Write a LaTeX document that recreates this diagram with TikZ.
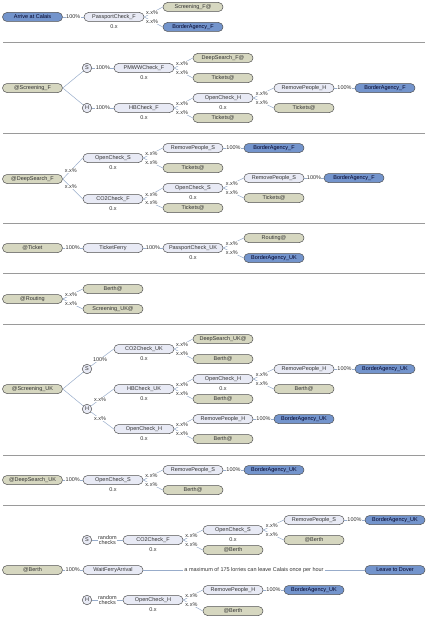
\documentclass[tikz,border=0pt]{standalone}
\usepackage{fontspec}
\setmainfont{Liberation Sans}
\definecolor{beigefill}{HTML}{D6D7C0}
\definecolor{lavfill}{HTML}{E8EAF5}
\definecolor{bluefill}{HTML}{7394CC}
\definecolor{nodeborder}{HTML}{505050}
\definecolor{connline}{HTML}{98ACCA}
\definecolor{sepline}{HTML}{9A9A9A}
\definecolor{txt}{HTML}{333333}
\tikzset{
  pill/.style={rectangle, rounded corners=4.5pt, minimum width=60pt, minimum height=9pt,
    inner sep=0pt, draw=nodeborder, line width=0.5pt, text=txt,
    font=\fontsize{5.5}{6}\selectfont},
  beige/.style={pill, fill=beigefill},
  lav/.style={pill, fill=lavfill},
  blu/.style={pill, fill=bluefill, text=black!85!blue},
  circ/.style={circle, draw=nodeborder, fill=lavfill, line width=0.5pt, minimum size=9.5pt,
    inner sep=0pt, text=txt, font=\fontsize{5.5}{6}\selectfont},
  zx/.style={label={[font=\fontsize{5.5}{6}\selectfont, text=txt, yshift=1pt]below:0.x}},
  conn/.style={draw=connline, line width=0.5pt},
  lbl/.style={fill=white, inner sep=0.4pt, text=txt, font=\fontsize{5.5}{6}\selectfont},
  sep/.style={draw=sepline, line width=1pt},
}
\newcommand\hedge[3]{\draw[conn] (#1.east) -- node[lbl]{#3} (#2.west);}
\newcommand\bedge[2]{\draw[conn] (#1.east) -- node[lbl,pos=.42]{x.x\%} (#2.west);}
\begin{document}
\begin{tikzpicture}[x=1pt,y=-1pt]
\useasboundingbox (0,0) rectangle (428,626);
% separators
\foreach \yy/\nm in {43/a,133/b,223/c,273/d,324/e,455/f,505/g}{
  \coordinate (sl\nm) at (3,\yy); \coordinate (sr\nm) at (425,\yy);
  \draw[sep] (sl\nm) -- (sr\nm);}
% ---------- section 1
\node[blu] (a1) at (32.5,17) {Arrive at Calais};
\node[lav,zx] (a2) at (114,17) {PassportCheck\_F};
\node[beige] (a3) at (193,7) {Screening\_F@};
\node[blu] (a4) at (193,27) {BorderAgency\_F};
\hedge{a1}{a2}{100\%}
\bedge{a2}{a3}\bedge{a2}{a4}
% ---------- section 2
\node[beige] (b1) at (32.5,88) {@Screening\_F};
\node[circ] (bS) at (87,68) {S};
\node[circ] (bH) at (87,108) {H};
\draw[conn] (b1.east) -- (bS); \draw[conn] (b1.east) -- (bH);
\node[lav,zx] (b2) at (144,68) {PMWWCheck\_F};
\node[lav,zx] (b3) at (144,108) {HBCheck\_F};
\hedge{bS}{b2}{100\%}\hedge{bH}{b3}{100\%}
\node[beige] (b4) at (223,58) {DeepSearch\_F@};
\node[beige] (b5) at (223,78) {Tickets@};
\node[lav,zx] (b6) at (223,98) {OpenCheck\_H};
\node[beige] (b7) at (223,118) {Tickets@};
\bedge{b2}{b4}\bedge{b2}{b5}\bedge{b3}{b6}\bedge{b3}{b7}
\node[lav] (b8) at (304,88) {RemovePeople\_H};
\node[beige] (b9) at (304,108) {Tickets@};
\bedge{b6}{b8}\bedge{b6}{b9}
\node[blu] (b10) at (385,88) {BorderAgency\_F};
\hedge{b8}{b10}{100\%}
% ---------- section 3
\node[beige] (c1) at (32.5,179) {@DeepSearch\_F};
\node[lav,zx] (c2) at (113,158) {OpenCheck\_S};
\node[lav,zx] (c3) at (113,199) {CO2Check\_F};
\draw[conn] (c1.east) -- node[lbl,pos=.4]{x.x\%} (c2.west);
\draw[conn] (c1.east) -- node[lbl,pos=.4]{x.x\%} (c3.west);
\node[lav] (c4) at (193,148) {RemovePeople\_S};
\node[beige] (c5) at (193,168) {Tickets@};
\node[lav,zx] (c6) at (193,188) {OpenCheck\_S};
\node[beige] (c7) at (193,208) {Tickets@};
\bedge{c2}{c4}\bedge{c2}{c5}\bedge{c3}{c6}\bedge{c3}{c7}
\node[blu] (c8) at (274,148) {BorderAgency\_F};
\hedge{c4}{c8}{100\%}
\node[lav] (c9) at (274,178) {RemovePeople\_S};
\node[beige] (c10) at (274,198) {Tickets@};
\bedge{c6}{c9}\bedge{c6}{c10}
\node[blu] (c11) at (354,178) {BorderAgency\_F};
\hedge{c9}{c11}{100\%}
% ---------- section 4
\node[beige] (d1) at (32.5,248) {@Ticket};
\node[lav] (d2) at (113,248) {TicketFerry};
\node[lav,zx] (d3) at (193,248) {PassportCheck\_UK};
\hedge{d1}{d2}{100\%}\hedge{d2}{d3}{100\%}
\node[beige] (d4) at (274,238) {Routing@};
\node[blu] (d5) at (274,258) {BorderAgency\_UK};
\bedge{d3}{d4}\bedge{d3}{d5}
% ---------- section 5
\node[beige] (e1) at (32.5,299) {@Routing};
\node[beige] (e2) at (113,289) {Berth@};
\node[beige] (e3) at (113,309) {Screening\_UK@};
\bedge{e1}{e2}\bedge{e1}{e3}
% ---------- section 6
\node[beige] (f1) at (32.5,389) {@Screening\_UK};
\node[circ] (fS) at (87,369) {S};
\node[circ] (fH) at (87,409) {H};
\draw[conn] (f1.east) -- (fS); \draw[conn] (f1.east) -- (fH);
\node[lav,zx] (f2) at (144,349) {CO2Check\_UK};
\node[lav,zx] (f3) at (144,389) {HBCheck\_UK};
\node[lav,zx] (f4) at (144,429) {OpenCheck\_H};
\draw[conn] (fS) -- node[lbl,pos=.4]{100\%} (f2.west);
\draw[conn] (fH) -- node[lbl,pos=.4]{x.x\%} (f3.west);
\draw[conn] (fH) -- node[lbl,pos=.4]{x.x\%} (f4.west);
\node[beige] (f5) at (223,339) {DeepSearch\_UK@};
\node[beige] (f6) at (223,359) {Berth@};
\node[lav,zx] (f7) at (223,379) {OpenCheck\_H};
\node[beige] (f8) at (223,399) {Berth@};
\node[lav] (f9) at (223,419) {RemovePeople\_H};
\node[beige] (f10) at (223,439) {Berth@};
\bedge{f2}{f5}\bedge{f2}{f6}\bedge{f3}{f7}\bedge{f3}{f8}\bedge{f4}{f9}\bedge{f4}{f10}
\node[blu] (f11) at (304,419) {BorderAgency\_UK};
\hedge{f9}{f11}{100\%}
\node[lav] (f12) at (304,369) {RemovePeople\_H};
\node[beige] (f13) at (304,389) {Berth@};
\bedge{f7}{f12}\bedge{f7}{f13}
\node[blu] (f14) at (385,369) {BorderAgency\_UK};
\hedge{f12}{f14}{100\%}
% ---------- section 7
\node[beige] (g1) at (32.5,480) {@DeepSearch\_UK};
\node[lav,zx] (g2) at (113,480) {OpenCheck\_S};
\hedge{g1}{g2}{100\%}
\node[lav] (g3) at (193,470) {RemovePeople\_S};
\node[beige] (g4) at (193,490) {Berth@};
\bedge{g2}{g3}\bedge{g2}{g4}
\node[blu] (g5) at (274,470) {BorderAgency\_UK};
\hedge{g3}{g5}{100\%}
% ---------- section 8
\node[beige] (h1) at (32.5,570) {@Berth};
\node[lav] (h2) at (113,570) {WaitFerryArrival};
\hedge{h1}{h2}{100\%}
\node[lbl, inner sep=1pt] (h3) at (254,570) {a maximum of 175 lorries can leave Calais once per hour};
\node[blu] (h4) at (395,570) {Leave to Dover};
\draw[conn] (h2.east) -- (h3.west); \draw[conn] (h3.east) -- (h4.west);
% S branch
\node[circ] (hS) at (87,540) {S};
\node[lav,zx] (h5) at (153,540) {CO2Check\_F};
\draw[conn] (hS) -- node[lbl, align=center, font=\fontsize{5.5}{5.5}\selectfont]{random\\checks} (h5.west);
\node[lav,zx] (h6) at (233,530) {OpenCheck\_S};
\node[beige] (h7) at (233,550) {@Berth};
\bedge{h5}{h6}\bedge{h5}{h7}
\node[lav] (h8) at (314,520) {RemovePeople\_S};
\node[beige] (h9) at (314,540) {@Berth};
\bedge{h6}{h8}\bedge{h6}{h9}
\node[blu] (h10) at (395,520) {BorderAgency\_UK};
\hedge{h8}{h10}{100\%}
% H branch
\node[circ] (hH) at (87,600) {H};
\node[lav,zx] (h11) at (153,600) {OpenCheck\_H};
\draw[conn] (hH) -- node[lbl, align=center, font=\fontsize{5.5}{5.5}\selectfont]{random\\checks} (h11.west);
\node[lav] (h12) at (233,590) {RemovePeople\_H};
\node[beige] (h13) at (233,611) {@Berth};
\bedge{h11}{h12}\bedge{h11}{h13}
\node[blu] (h14) at (314,590) {BorderAgency\_UK};
\hedge{h12}{h14}{100\%}
\end{tikzpicture}
\end{document}
